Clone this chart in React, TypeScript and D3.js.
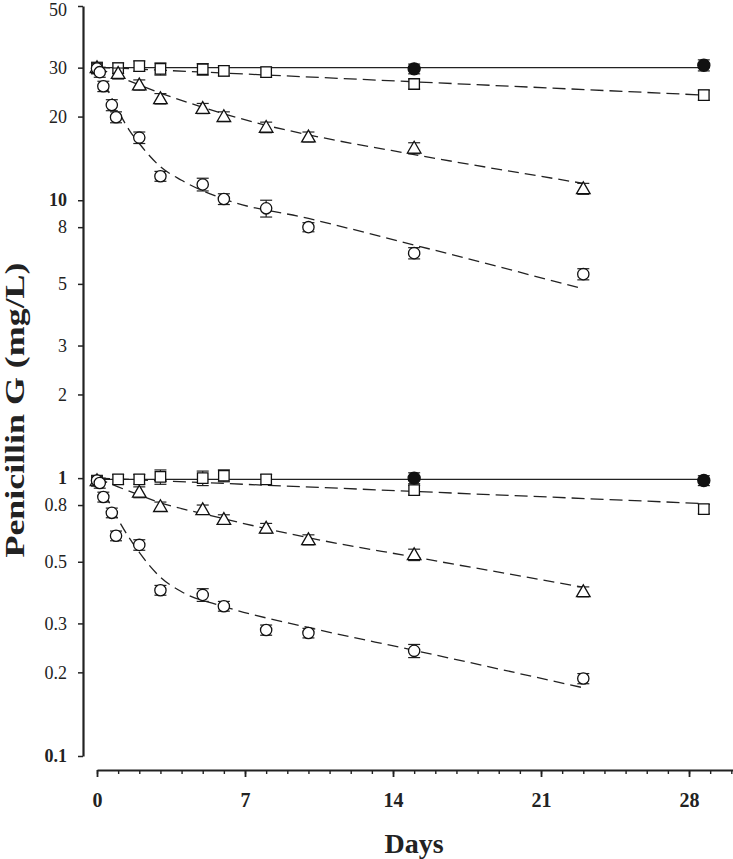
import React, { useRef, useEffect } from "react";
import * as d3 from "d3";

// sampling days (circle series also has the early hourly samples)
const daysCircle = [0, 0.13, 0.3, 0.7, 0.9, 2, 3, 5, 6, 8, 10, 15, 23];
const daysTriangle30 = [0, 1, 2, 3, 5, 6, 8, 10, 15, 23];
const daysTriangle1 = [0, 2, 3, 5, 6, 8, 10, 15, 23];
const daysSquare = [0, 1, 2, 3, 5, 6, 8, 15, 28.7];
const daysControl = [15, 28.7];

// 30 mg/L group
const circle30 = [29.8, 28.9, 25.7, 22.0, 19.9, 16.8, 12.2, 11.4, 10.1, 9.35, 8.0, 6.45, 5.42];
const circle30Err = [1.3, 1.2, 1.1, 1.0, 0.9, 0.8, 0.5, 0.6, 0.45, 0.65, 0.3, 0.3, 0.25];
const triangle30 = [30, 28.6, 26.0, 23.2, 21.4, 20.0, 18.3, 16.9, 15.4, 11.0];
const triangle30Err = [1.3, 1.3, 1.1, 1.0, 0.9, 0.8, 0.8, 0.7, 0.7, 0.5];
const square30 = [30, 29.9, 30.4, 29.7, 29.6, 29.2, 28.9, 26.2, 23.9];
const square30Err = [1.3, 1.3, 1.3, 1.5, 1.4, 1.2, 1.2, 1.1, 1.0];
const control30 = [29.7, 30.6];
const control30Err = [1.2, 1.4];

// 1 mg/L group
const circle1 = [0.98, 0.96, 0.855, 0.75, 0.62, 0.575, 0.395, 0.38, 0.346, 0.284, 0.277, 0.239, 0.19];
const circle1Err = [0.04, 0.04, 0.035, 0.03, 0.025, 0.025, 0.016, 0.02, 0.014, 0.012, 0.011, 0.013, 0.008];
const triangle1 = [0.98, 0.89, 0.79, 0.77, 0.71, 0.66, 0.6, 0.53, 0.39];
const triangle1Err = [0.04, 0.04, 0.03, 0.03, 0.028, 0.027, 0.025, 0.025, 0.016];
const square1 = [0.98, 0.99, 0.99, 1.01, 1.0, 1.02, 0.99, 0.905, 0.774];
const square1Err = [0.04, 0.04, 0.04, 0.06, 0.06, 0.05, 0.04, 0.036, 0.03];
const control1 = [1.0, 0.98];
const control1Err = [0.045, 0.04];

// fitted curves
const fitCircle30Days = [0, 0.5, 1, 1.5, 2, 3, 4, 6, 10, 15, 23];
const fitCircle30 = [30, 25, 21, 18, 16, 13.2, 11.8, 10.1, 8.6, 6.9, 4.8];
const fitTriangle30Days = [0, 1, 2, 3, 5, 8, 10, 15, 23];
const fitTriangle30 = [30, 27.9, 26.0, 24.3, 21.6, 18.6, 17.2, 14.6, 11.5];
const fitSquare30Days = [0, 28.7];
const fitSquare30 = [30.1, 23.9];
const fitControl30 = [30, 30];

const fitCircle1Days = [0, 0.5, 1, 2, 3, 4, 6, 10, 15, 23];
const fitCircle1 = [1.0, 0.84, 0.71, 0.54, 0.44, 0.39, 0.345, 0.29, 0.24, 0.176];
const fitTriangle1Days = [0, 1, 2, 3, 5, 7, 10, 15, 23];
const fitTriangle1 = [1.0, 0.93, 0.87, 0.815, 0.745, 0.685, 0.61, 0.52, 0.405];
const fitSquare1Days = [0, 28.7];
const fitSquare1 = [1.0, 0.81];
const fitControl1 = [0.99, 0.99];

const yTicks = [50, 30, 20, 10, 8, 5, 3, 2, 1, 0.8, 0.5, 0.3, 0.2, 0.1];
const yBold = [10, 1, 0.1];
const xMajor = [0, 7, 14, 21, 28];

const W = 733;
const H = 859;
const FONT = "'Liberation Serif', 'Times New Roman', serif";

const zip = (xs: number[], ys: number[], es?: number[]) =>
  xs.map((x, i) => ({ x, y: ys[i], e: es ? es[i] : 0 }));

const App = () => {
  const svgRef = useRef<SVGSVGElement>(null);

  useEffect(() => {
    const svg = d3.select(svgRef.current);
    svg.selectAll("*").remove();

    const x = d3.scaleLinear().domain([0, 30.08]).range([97, W]);
    const y = d3.scaleLog().domain([0.1, 50]).range([756, 6]);

    // fit lines
    const line = d3
      .line<{ x: number; y: number }>()
      .x((d) => x(d.x))
      .y((d) => y(d.y))
      .curve(d3.curveMonotoneX);

    const fits = [
      { pts: zip(fitSquare30Days, fitControl30), dash: null },
      { pts: zip(fitSquare30Days, fitSquare30), dash: "13,6" },
      { pts: zip(fitTriangle30Days, fitTriangle30), dash: "11,6" },
      { pts: zip(fitCircle30Days, fitCircle30), dash: "11,6" },
      { pts: zip(fitSquare1Days, fitControl1), dash: null },
      { pts: zip(fitSquare1Days, fitSquare1), dash: "13,6" },
      { pts: zip(fitTriangle1Days, fitTriangle1), dash: "11,6" },
      { pts: zip(fitCircle1Days, fitCircle1), dash: "11,6" },
    ];

    svg
      .append("g")
      .selectAll("path")
      .data(fits)
      .join("path")
      .attr("d", (d) => line(d.pts))
      .attr("fill", "none")
      .attr("stroke", "#222")
      .attr("stroke-width", 1.3)
      .attr("stroke-dasharray", (d) => d.dash);

    const series = [
      { pts: zip(daysSquare, square30, square30Err), shape: "square" },
      { pts: zip(daysTriangle30, triangle30, triangle30Err), shape: "triangle" },
      { pts: zip(daysCircle, circle30, circle30Err), shape: "circle" },
      { pts: zip(daysControl, control30, control30Err), shape: "filled" },
      { pts: zip(daysSquare, square1, square1Err), shape: "square" },
      { pts: zip(daysTriangle1, triangle1, triangle1Err), shape: "triangle" },
      { pts: zip(daysCircle, circle1, circle1Err), shape: "circle" },
      { pts: zip(daysControl, control1, control1Err), shape: "filled" },
    ];

    const sym: Record<string, d3.SymbolType> = {
      square: d3.symbolSquare,
      triangle: d3.symbolTriangle,
      circle: d3.symbolCircle,
      filled: d3.symbolCircle,
    };
    const size: Record<string, number> = {
      square: 110,
      triangle: 80,
      circle: 100,
      filled: 115,
    };

    series.forEach((s) => {
      const g = svg.append("g");
      // error bars
      const eb = g
        .selectAll("g.err")
        .data(s.pts)
        .join("g")
        .attr("class", "err")
        .attr("stroke", "#222")
        .attr("stroke-width", 1.2);
      eb.append("line")
        .attr("x1", (d) => x(d.x))
        .attr("x2", (d) => x(d.x))
        .attr("y1", (d) => y(d.y + d.e))
        .attr("y2", (d) => y(d.y - d.e));
      [1, -1].forEach((sgn) =>
        eb
          .append("line")
          .attr("x1", (d) => x(d.x) - 6)
          .attr("x2", (d) => x(d.x) + 6)
          .attr("y1", (d) => y(d.y + sgn * d.e))
          .attr("y2", (d) => y(d.y + sgn * d.e))
      );
      // markers
      g.selectAll("path.mark")
        .data(s.pts)
        .join("path")
        .attr("class", "mark")
        .attr("d", d3.symbol().type(sym[s.shape]).size(size[s.shape]))
        .attr(
          "transform",
          (d) => `translate(${x(d.x)},${y(d.y) + (s.shape === "triangle" ? 1 : 0)})`
        )
        .attr("fill", s.shape === "filled" ? "#111" : "#fff")
        .attr("stroke", "#111")
        .attr("stroke-width", 1.3);
    });

    // y axis
    const yAxis = svg
      .append("g")
      .attr("transform", "translate(83,0)")
      .call(
        d3
          .axisLeft(y)
          .tickValues(yTicks)
          .tickFormat((d) => String(d))
          .tickSize(5)
          .tickSizeOuter(0)
          .tickPadding(11)
      );
    yAxis.select(".domain").attr("stroke-width", 2.2).attr("stroke", "#222");
    yAxis.selectAll(".tick line").attr("stroke-width", 1.5).attr("stroke", "#222");
    yAxis
      .selectAll<SVGTextElement, number>(".tick text")
      .attr("font-family", FONT)
      .attr("font-size", 18)
      .attr("fill", "#222")
      .attr("dy", (d) => (d === 50 ? "0.5em" : "0.32em"))
      .attr("font-weight", (d) => (yBold.includes(d) ? "bold" : "normal"));

    // x axis: minor ticks every day, major every week
    const xMinor = svg
      .append("g")
      .attr("transform", "translate(0,770)")
      .call(
        d3
          .axisBottom(x)
          .tickValues(d3.range(0, 31))
          .tickFormat(() => "")
          .tickSize(4)
          .tickSizeOuter(0)
      );
    xMinor.select(".domain").attr("stroke-width", 2.2).attr("stroke", "#222");
    xMinor.selectAll(".tick line").attr("stroke-width", 1.4).attr("stroke", "#222");

    const xAxis = svg
      .append("g")
      .attr("transform", "translate(0,770)")
      .call(
        d3
          .axisBottom(x)
          .tickValues(xMajor)
          .tickSize(7)
          .tickSizeOuter(0)
          .tickPadding(16)
      );
    xAxis.select(".domain").remove();
    xAxis.selectAll(".tick line").attr("stroke-width", 1.8).attr("stroke", "#222");
    xAxis
      .selectAll(".tick text")
      .attr("font-family", FONT)
      .attr("font-size", 20)
      .attr("font-weight", "bold")
      .attr("fill", "#222");

    // axis titles
    svg
      .append("text")
      .attr("transform", "translate(24,410) rotate(-90)")
      .attr("text-anchor", "middle")
      .attr("font-family", FONT)
      .attr("font-size", 28)
      .attr("font-weight", "bold")
      .attr("fill", "#222")
      .attr("textLength", 295)
      .attr("lengthAdjust", "spacingAndGlyphs")
      .text("Penicillin G (mg/L)");

    svg
      .append("text")
      .attr("x", 414)
      .attr("y", 853)
      .attr("text-anchor", "middle")
      .attr("font-family", FONT)
      .attr("font-size", 28)
      .attr("font-weight", "bold")
      .attr("fill", "#222")
      .text("Days");
  }, []);

  return (
    <svg
      ref={svgRef}
      width={W}
      height={H}
      style={{ position: "absolute", left: 0, top: 0, background: "#fff" }}
    />
  );
};

export default App;
